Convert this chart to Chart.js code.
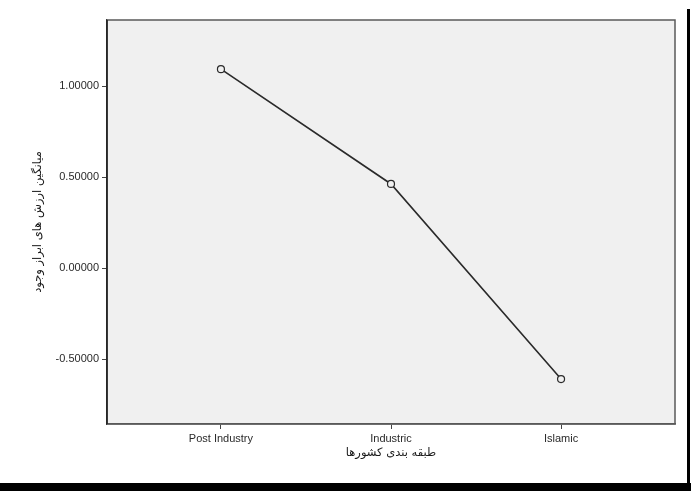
<!DOCTYPE html>
<html>
<head>
<meta charset="utf-8">
<script src="https://cdn.jsdelivr.net/npm/chart.js@4.4.0/dist/chart.umd.min.js"></script>
<style>
  html, body { margin: 0; padding: 0; background: #ffffff; }
  #wrap { position: relative; width: 691px; height: 491px; overflow: hidden; }
  #c { position: absolute; left: 0; top: 0; }
  #vbar { position: absolute; left: 687px; top: 9px; width: 3px; height: 482px; background: #000; }
  #hbar { position: absolute; left: 0; top: 483px; width: 691px; height: 8px; background: #000; }
</style>
</head>
<body>
<div id="wrap">
  <canvas id="c" width="691" height="491"></canvas>
  <div id="vbar"></div>
  <div id="hbar"></div>
</div>
<script>
// ---- data ----
const categories = ['Post Industry', 'Industric', 'Islamic'];
const meanValues = [1.093, 0.462, -0.61];
const yTickValues = [-0.5, 0, 0.5, 1.0];
const yTickLabels = ['-0.50000', '0.00000', '0.50000', '1.00000'];
const xTitle = 'طبقه بندی کشورها';
const yTitle = 'میانگین ارزش های ابراز وجود';

const points = categories.map((c, i) => ({ x: i, y: meanValues[i] }));

const plotBg = {
  id: 'plotBg',
  beforeDraw(chart) {
    const { ctx, chartArea: a } = chart;
    ctx.save();
    ctx.fillStyle = '#f0f0f0';
    ctx.fillRect(a.left, a.top, a.right - a.left, a.bottom - a.top);
    ctx.restore();
  },
  afterDraw(chart) {
    const { ctx, chartArea: a } = chart;
    ctx.save();
    ctx.strokeStyle = '#5a5a5a';
    ctx.lineWidth = 1.5;
    ctx.strokeRect(a.left, a.top, a.right - a.left, a.bottom - a.top);
    ctx.strokeStyle = '#111';
    ctx.lineWidth = 1.2;
    ctx.beginPath();
    ctx.moveTo(a.left, a.top);
    ctx.lineTo(a.left, a.bottom);
    ctx.stroke();
    ctx.restore();
  }
};

new Chart(document.getElementById('c'), {
  type: 'scatter',
  data: {
    datasets: [{
      data: points,
      showLine: true,
      borderColor: '#2a2a2a',
      borderWidth: 1.6,
      pointRadius: 3.5,
      pointBorderWidth: 1.2,
      pointBorderColor: '#2a2a2a',
      pointBackgroundColor: '#f0f0f0',
      tension: 0
    }]
  },
  plugins: [plotBg],
  options: {
    responsive: false,
    animation: false,
    events: [],
    layout: { padding: { left: 0, top: 20, right: 16, bottom: 0 } },
    plugins: { legend: { display: false }, tooltip: { enabled: false } },
    scales: {
      x: {
        type: 'linear',
        min: -0.67,
        max: 2.67,
        afterBuildTicks(scale) { scale.ticks = categories.map((c, i) => ({ value: i })); },
        afterFit(scale) { scale.height = 67; },
        ticks: {
          callback: (v) => categories[v],
          color: '#2a2a2a',
          font: { family: 'Liberation Sans', size: 11 },
          padding: 3,
          maxRotation: 0,
          autoSkip: false
        },
        grid: { drawOnChartArea: false, drawTicks: true, tickLength: 5, tickColor: '#444', display: true },
        border: { display: true, color: '#5a5a5a', width: 1.5 },
        title: {
          display: true,
          text: xTitle,
          color: '#1a1a1a',
          font: { family: 'DejaVu Sans', size: 11.5 },
          padding: { top: 0, bottom: 31 }
        }
      },
      y: {
        type: 'linear',
        min: -0.857,
        max: 1.363,
        afterBuildTicks(scale) { scale.ticks = yTickValues.map(v => ({ value: v })); },
        afterFit(scale) { scale.width = 107; },
        ticks: {
          callback: (v) => yTickLabels[yTickValues.indexOf(v)],
          color: '#2a2a2a',
          font: { family: 'Liberation Sans', size: 11 },
          padding: 3,
          autoSkip: false
        },
        grid: { drawOnChartArea: false, drawTicks: true, tickLength: 5, tickColor: '#444', display: true },
        border: { display: true, color: '#111', width: 1.2 },
        title: {
          display: true,
          text: yTitle,
          color: '#1a1a1a',
          font: { family: 'DejaVu Sans', size: 11.5 },
          padding: { top: 31, bottom: 0 }
        }
      }
    }
  }
});
</script>
</body>
</html>
